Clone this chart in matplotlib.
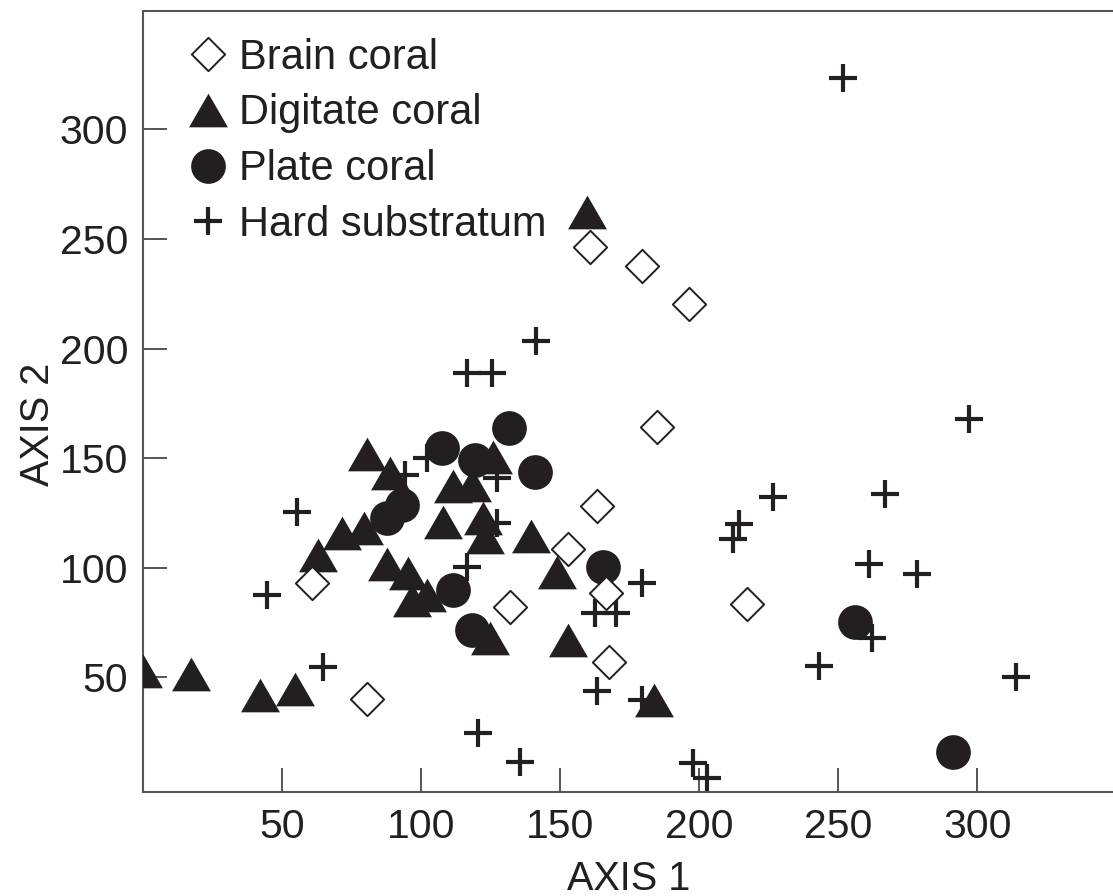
import matplotlib.pyplot as plt
from matplotlib.path import Path

# --- data (AXIS 1, AXIS 2) ---
brain_x = [160.7, 179.3, 196.2, 184.7, 163.3, 152.9, 131.9, 166.4, 167.6, 217.3, 60.6, 80.4]
brain_y = [246.4, 237.6, 220.2, 164.3, 128.1, 108.4, 82.2, 88.3, 57.1, 83.4, 93.2, 40.0]

digit_x = [159.5, 80.4, 88.7, 125.9, 111.5, 118.1, 107.9, 122.1, 122.9, 139.4, 148.7,
           152.9, 71.4, 79.4, 63.0, 87.6, 95.3, 96.5, 101.9, 124.7, 183.7,
           0.0, 17.2, 42.0, 54.4]
digit_y = [262.1, 152.0, 143.2, 150.4, 137.3, 137.7, 121.0, 122.5, 114.0, 114.6, 97.9,
           67.2, 115.7, 118.0, 105.8, 101.7, 97.4, 85.3, 87.5, 67.8, 39.6,
           52.9, 51.5, 41.8, 44.8]

plate_x = [131.7, 107.3, 119.3, 140.9, 92.9, 87.6, 111.5, 118.1, 165.5, 256.0, 291.2]
plate_y = [163.6, 154.5, 149.1, 143.8, 128.6, 122.5, 89.8, 71.6, 100.2, 75.4, 15.8]

hard_x = [251.7, 141.3, 116.3, 125.3, 101.9, 94.1, 127.1, 55.2, 127.1, 116.3, 64.7,
          44.6, 162.5, 170.0, 179.3, 163.1, 179.3, 120.4, 135.4, 197.8, 202.7,
          226.6, 214.4, 212.0, 242.9, 297.1, 266.7, 260.9, 278.2, 262.1, 313.8]
hard_y = [323.4, 203.6, 188.7, 188.7, 149.9, 142.3, 140.8, 125.5, 120.3, 100.5, 54.8,
          87.5, 79.5, 79.5, 92.9, 43.9, 39.6, 24.7, 11.2, 11.0, 4.2,
          132.1, 119.8, 113.0, 55.3, 167.8, 133.5, 101.6, 97.0, 68.1, 50.3]

ticks = [50, 100, 150, 200, 250, 300]

ink = '#231f20'
frame = '#555555'
plt.rcParams['font.family'] = ['Liberation Sans', 'DejaVu Sans']

fig = plt.figure(figsize=(11.13, 8.96), dpi=100)
ax = fig.add_axes([0.1288, 0.1164, 0.8712, 0.8713])

# custom shapes: equilateral-ish triangle and square diamond (closed outline)
tri = Path([(-1, -0.866), (1, -0.866), (0, 0.866), (-1, -0.866)], closed=True)
dia = Path([(0, 1), (1, 0), (0, -1), (-1, 0), (0, 1)], closed=True)

h_hard, = ax.plot(hard_x, hard_y, ls='none', marker='+', ms=20, mew=3.0,
                  color=ink, zorder=2, label='Hard substratum')
h_digit, = ax.plot(digit_x, digit_y, ls='none', marker=tri, ms=28, mew=0,
                   color=ink, zorder=3, label='Digitate coral')
h_plate, = ax.plot(plate_x, plate_y, ls='none', marker='o', ms=25, mew=0,
                   color=ink, zorder=4, label='Plate coral')
h_brain, = ax.plot(brain_x, brain_y, ls='none', marker=dia, ms=24, mew=1.4,
                   mfc='white', mec=ink, zorder=5, label='Brain coral')

ax.set_xlim(0, 348.8)
ax.set_ylim(-2.2, 354)
ax.set_xticks(ticks)
ax.set_yticks(ticks)
ax.tick_params(direction='in', length=17, width=1.4, color=frame,
               labelsize=29.5, labelcolor=ink)
ax.tick_params(axis='x', pad=12)
ax.tick_params(axis='y', pad=11)

for side in ['left', 'bottom', 'top']:
    ax.spines[side].set_color(frame)
    ax.spines[side].set_linewidth(1.5)
ax.spines['right'].set_visible(False)

ax.set_xlabel('AXIS 1', fontsize=28.5, color=ink)
ax.set_ylabel('AXIS 2', fontsize=28.5, color=ink)
ax.xaxis.set_label_coords(0.5, -0.087)
ax.yaxis.set_label_coords(-0.089, 0.47)

ax.legend(handles=[h_brain, h_digit, h_plate, h_hard], loc='upper left',
          bbox_to_anchor=(0.049, 0.966), frameon=False, fontsize=30,
          numpoints=1, handlelength=0.8, handletextpad=0.35,
          labelspacing=0.38, borderpad=0, borderaxespad=0, labelcolor=ink)

fig.savefig('out.png', dpi=100)
